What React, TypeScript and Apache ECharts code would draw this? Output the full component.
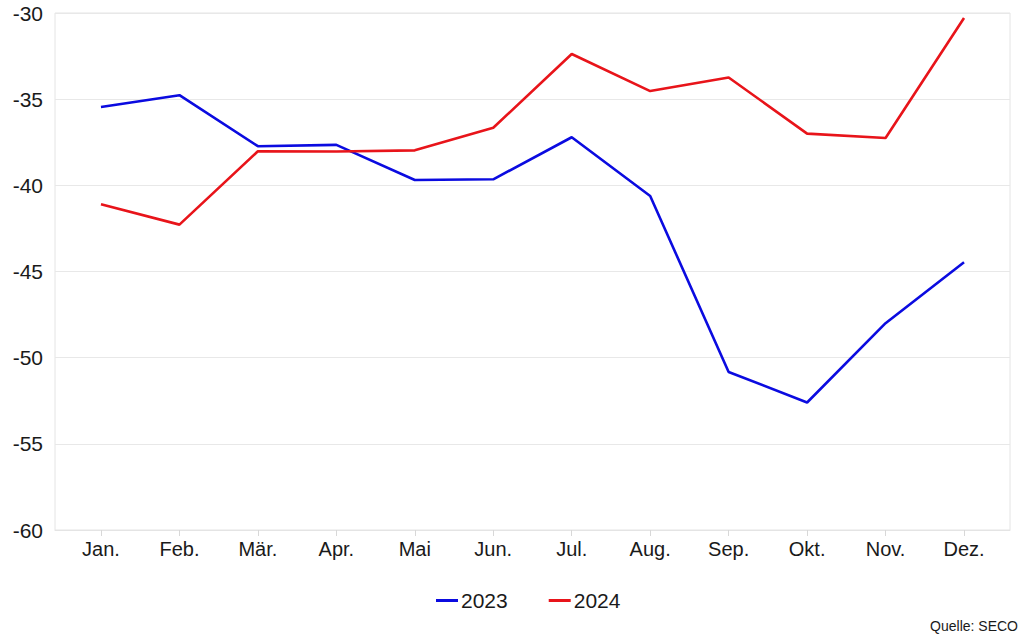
import React, { useEffect, useRef } from "react";
import * as echarts from "echarts";

const months = ["Jan.", "Feb.", "Mär.", "Apr.", "Mai", "Jun.", "Jul.", "Aug.", "Sep.", "Okt.", "Nov.", "Dez."];
const values2023 = [-35.45, -34.77, -37.73, -37.65, -39.69, -39.65, -37.21, -40.62, -50.83, -52.6, -48.0, -44.46];
const values2024 = [-41.1, -42.28, -38.02, -38.04, -37.97, -36.66, -32.38, -34.53, -33.74, -37.0, -37.25, -30.29];
const seriesNames = ["2023", "2024"];
const yTicks = [-60, -55, -50, -45, -40, -35, -30];
const sourceText = "Quelle: SECO";

const FONT = "Liberation Sans, Arial, sans-serif";

export default function App() {
  const ref = useRef<HTMLDivElement>(null);
  useEffect(() => {
    if (!ref.current) return;
    const chart = echarts.init(ref.current, null, { renderer: "svg" });
    const idx = months.map((_, i) => i);
    chart.setOption({
      animation: false,
      backgroundColor: "#ffffff",
      textStyle: { fontFamily: FONT },
      grid: {
        left: 55,
        right: 14,
        top: 13,
        bottom: 110,
        show: true,
        borderColor: "#e4e4e4",
        borderWidth: 1,
      },
      xAxis: {
        type: "value",
        min: -0.586,
        max: 11.586,
        splitLine: { show: false },
        axisLine: { show: true, lineStyle: { color: "#e4e4e4", width: 1 } },
        axisTick: {
          show: true,
          customValues: idx,
          length: 6,
          lineStyle: { color: "#d8d8d8", width: 1 },
        },
        axisLabel: {
          customValues: idx,
          formatter: (v: number) => months[Math.round(v)] ?? "",
          fontSize: 20,
          color: "#1a1a1a",
          fontFamily: FONT,
          margin: 9,
        },
      },
      yAxis: {
        type: "value",
        min: yTicks[0],
        max: yTicks[yTicks.length - 1],
        interval: 5,
        axisLine: { show: false },
        axisTick: { show: false },
        splitLine: { show: true, lineStyle: { color: "#e8e8e8", width: 1 } },
        axisLabel: {
          fontSize: 21,
          color: "#1a1a1a",
          fontFamily: FONT,
          margin: 12,
        },
      },
      legend: {
        left: 436,
        top: 590,
        padding: 0,
        itemWidth: 22,
        itemHeight: 3,
        itemGap: 41,
        icon: "rect",
        textStyle: { fontSize: 21, color: "#1a1a1a", fontFamily: FONT, padding: [0, 0, 0, -2] },
        data: seriesNames,
      },
      graphic: [
        {
          type: "text",
          right: 6,
          top: 619,
          style: { text: sourceText, fontSize: 14, fill: "#1a1a1a", fontFamily: FONT },
        },
      ],
      series: [
        {
          name: seriesNames[0],
          type: "line",
          data: values2023.map((v, i) => [i, v]),
          showSymbol: false,
          symbol: "none",
          lineStyle: { color: "#0b0be0", width: 2.6 },
          itemStyle: { color: "#0b0be0" },
        },
        {
          name: seriesNames[1],
          type: "line",
          data: values2024.map((v, i) => [i, v]),
          showSymbol: false,
          symbol: "none",
          lineStyle: { color: "#e8141a", width: 2.6 },
          itemStyle: { color: "#e8141a" },
        },
      ],
    });
    return () => chart.dispose();
  }, []);
  return (
    <div
      ref={ref}
      style={{ position: "fixed", left: 0, top: 0, width: 1024, height: 640, background: "#fff" }}
    />
  );
}
